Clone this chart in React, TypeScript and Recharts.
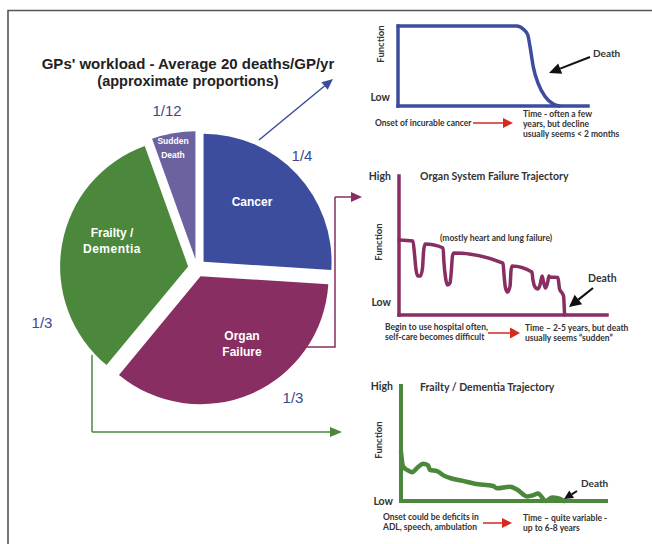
import { Cell, Line, LineChart, Pie, PieChart, XAxis, YAxis } from "recharts";

// pie: share of deaths by trajectory, clockwise from 12 o'clock
const causes = ["Cancer", "Organ Failure", "Frailty / Dementia", "Sudden Death"];
const shares = [0.26, 0.35, 0.335, 0.055];
const sliceColors = ["#3d4d9d", "#892e62", "#4b883b", "#6b629f"];

// trajectories: t = time (0-100), f = function (0 = low, 100 = high)
const cancerTime = [0, 62.5, 66, 68.3, 69.5, 71.2, 73.8, 77.4, 81.7, 85];
const cancerFunction = [100, 100, 96, 89, 74, 49, 28, 12, 2.5, 0];

const organTime = [
  0, 6.7, 7.5, 8.2, 9.1, 10.3, 11.3, 11.8, 12.5, 21.2, 21.6, 22.4, 23.3, 24.5,
  25.2, 25.7, 26.4, 50, 50.5, 51.2, 52.2, 53.4, 53.8, 54.3, 63.9, 64.4, 65.4,
  66.6, 67.8, 68.8, 69.5, 70.4, 71.4, 72.1, 72.6, 76.4, 77.2, 78.4, 79.1, 79.6,
];
const organFunction = [
  54, 53.2, 43, 32.4, 28, 28, 33.8, 45.3, 51, 48.2, 38, 26.6, 21.6, 23, 32.4,
  42.4, 44.6, 37.4, 28.8, 19.4, 16.5, 20.9, 30.9, 35.3, 30.9, 25.2, 20.1, 18.7,
  21.6, 28, 23.7, 19.4, 23, 28, 27.3, 27, 18.7, 15.8, 13.7, 0,
];

const frailtyTime = [
  0, 1, 3, 5.4, 8.3, 10.7, 13.2, 14.1, 17.6, 20.5, 23.9, 30.2, 36, 45, 46.8,
  53.2, 56.6, 61.5, 64.4, 66.8, 70.7, 73.7, 76.6, 79.5,
];
const frailtyFunction = [
  42.5, 30, 27, 25, 29.5, 32.5, 31, 27, 26, 22.5, 20, 17.5, 15, 13, 11, 12.5,
  10, 4, 5, 6.5, 0, 3, 2.5, 0,
];

const levelTicks = [0, 100];
const levelNames = ["Low", "High"];

const PIE_CX = 192;
const PIE_CY = 263;
const EXPLODE = 9;

const pieData = causes.map((name, i) => ({ name, value: shares[i] }));
const total = shares.reduce((a, b) => a + b, 0);
const midAngles = shares.map((s, i) => {
  const before = shares.slice(0, i).reduce((a, b) => a + b, 0);
  return 90 - ((before + s / 2) / total) * 360;
});

const zip = (t: number[], f: number[]) => t.map((v, i) => ({ t: v, f: f[i] }));

const SMALL = "Lato, 'Open Sans', sans-serif";
const ARIAL = "'Liberation Sans', Arial, sans-serif";

function levelTick(lowShift: number) {
  return (props: any) => {
    const { x, y, payload } = props;
    const name = levelNames[levelTicks.indexOf(payload.value)];
    return (
      <text
        x={x}
        y={y + (payload.value === 0 ? lowShift : 0)}
        textAnchor="end"
        dominantBaseline="central"
        fontFamily={SMALL}
        fontWeight={700}
        fontSize={10.5}
        fill="#333"
      >
        {name}
      </text>
    );
  };
}

interface TrajectoryProps {
  left: number;
  top: number;
  width: number;
  height: number;
  margin: { top: number; right: number; bottom: number; left: number };
  yWidth: number;
  data: { t: number; f: number }[];
  color: string;
  axisWidth: number;
  lineWidth: number;
  ticks: number[];
  lowShift: number;
}

function Trajectory(p: TrajectoryProps) {
  const axisLine = { stroke: p.color, strokeWidth: p.axisWidth, strokeLinecap: "square" as const };
  return (
    <div style={{ position: "absolute", left: p.left, top: p.top }}>
      <LineChart width={p.width} height={p.height} data={p.data} margin={p.margin}>
        <XAxis
          type="number"
          dataKey="t"
          domain={[0, 100]}
          tick={false}
          tickLine={false}
          height={2}
          axisLine={axisLine}
        />
        <YAxis
          type="number"
          domain={[0, 100]}
          ticks={p.ticks}
          interval={0}
          width={p.yWidth}
          tickLine={false}
          tickSize={0}
          tickMargin={8}
          axisLine={axisLine}
          tick={levelTick(p.lowShift)}
        />
        <Line
          type="monotone"
          dataKey="f"
          stroke={p.color}
          strokeWidth={p.lineWidth}
          strokeLinejoin="round"
          strokeLinecap="round"
          dot={false}
          isAnimationActive={false}
        />
      </LineChart>
    </div>
  );
}

function Arrow({
  x1, y1, x2, y2, color, width = 1.5, head = 10, spread = 4.5,
}: {
  x1: number; y1: number; x2: number; y2: number; color: string;
  width?: number; head?: number; spread?: number;
}) {
  const a = Math.atan2(y2 - y1, x2 - x1);
  const bx = x2 - head * Math.cos(a);
  const by = y2 - head * Math.sin(a);
  const px = -Math.sin(a) * spread;
  const py = Math.cos(a) * spread;
  return (
    <g>
      <line x1={x1} y1={y1} x2={bx} y2={by} stroke={color} strokeWidth={width} />
      <polygon points={`${x2},${y2} ${bx + px},${by + py} ${bx - px},${by - py}`} fill={color} />
    </g>
  );
}

function Note({ x, y, lines, size = 8.5 }: { x: number; y: number; lines: string[]; size?: number }) {
  return (
    <text x={x} y={y} fontFamily={SMALL} fontWeight={700} fontSize={size} fill="#333" dominantBaseline="central">
      {lines.map((l, i) => (
        <tspan key={i} x={x} dy={i === 0 ? 0 : size * 1.2}>
          {l}
        </tspan>
      ))}
    </text>
  );
}

function Overlay() {
  const white = { fontFamily: ARIAL, fontWeight: 700, fill: "#fff", textAnchor: "middle" as const, dominantBaseline: "central" as const };
  const frac = { fontFamily: ARIAL, fontSize: 15, fill: "#3d4a8c", textAnchor: "middle" as const, dominantBaseline: "central" as const };
  const fn = { fontFamily: SMALL, fontWeight: 700, fontSize: 9.5, fill: "#333", textAnchor: "middle" as const, dominantBaseline: "central" as const };
  return (
    <svg width={652} height={544} style={{ position: "absolute", left: 0, top: 0, pointerEvents: "none" }}>
      <polyline points="652,10.5 8,10.5 8,544" fill="none" stroke="#555" strokeWidth={1.6} />

      <text x={188} y={63} textAnchor="middle" dominantBaseline="central" fontFamily={ARIAL} fontWeight={700} fontSize={15} fill="#222">
        GPs' workload - Average 20 deaths/GP/yr
      </text>
      <text x={188} y={81} textAnchor="middle" dominantBaseline="central" fontFamily={ARIAL} fontWeight={700} fontSize={14.5} fill="#222">
        (approximate proportions)
      </text>

      <text x={167} y={110} {...frac}>1/12</text>
      <text x={302} y={155} {...frac}>1/4</text>
      <text x={42} y={322} {...frac}>1/3</text>
      <text x={293} y={397} {...frac}>1/3</text>

      <text x={252} y={202} fontSize={12} {...white}>Cancer</text>
      <text x={112} y={233} fontSize={12} {...white}>Frailty /</text>
      <text x={112} y={249} fontSize={12} {...white} letterSpacing={0.5}>Dementia</text>
      <text x={242} y={336} fontSize={12} {...white}>Organ</text>
      <text x={242} y={352} fontSize={12} {...white}>Failure</text>
      <text x={173} y={141} fontSize={8.5} {...white}>Sudden</text>
      <text x={173} y={155} fontSize={8.5} {...white}>Death</text>

      <Arrow x1={259} y1={140} x2={333} y2={79} color="#3d4d9d" head={11} spread={5} />
      <polyline points="302,347 335,347 335,197" fill="none" stroke="#892e62" strokeWidth={1.5} />
      <Arrow x1={335} y1={197} x2={362} y2={197} color="#892e62" head={11} spread={5} />
      <polyline points="92,355 92,432" fill="none" stroke="#4b883b" strokeWidth={1.5} />
      <Arrow x1={92} y1={432} x2={342} y2={432} color="#4b883b" head={12} spread={5} />

      {/* cancer trajectory */}
      <text x={380} y={44} transform="rotate(-90 380 44)" {...fn}>Function</text>
      <Note x={593} y={53} lines={["Death"]} size={10} />
      <Arrow x1={590} y1={57} x2={549} y2={73} color="#111" width={2} head={12} spread={5.5} />
      <Note x={375} y={123} lines={["Onset of incurable cancer"]} />
      <Arrow x1={473} y1={123} x2={513} y2={123} color="#d42a20" head={10} spread={5} />
      <Note x={523} y={114} lines={["Time - often a few", "years, but decline", "usually seems < 2 months"]} />

      {/* organ failure trajectory */}
      <Note x={420} y={176} lines={["Organ System Failure Trajectory"]} size={10.5} />
      <text x={378} y={242} transform="rotate(-90 378 242)" {...fn}>Function</text>
      <Note x={440} y={238} lines={["(mostly heart and lung failure)"]} size={8.5} />
      <Note x={588} y={278} lines={["Death"]} size={10.5} />
      <Arrow x1={593} y1={288} x2={569} y2={307} color="#111" width={2.2} head={12} spread={6} />
      <Note x={385} y={327} lines={["Begin to use hospital often,", "self-care becomes difficult"]} />
      <Arrow x1={488} y1={333} x2={520} y2={333} color="#d42a20" head={10} spread={5.5} />
      <Note x={525} y={328} lines={["Time \u2013 2-5 years, but death", "usually seems \u201csudden\u201d"]} />

      {/* frailty trajectory */}
      <Note x={420} y={387} lines={["Frailty / Dementia Trajectory"]} size={10.5} />
      <text x={378} y={440} transform="rotate(-90 378 440)" {...fn}>Function</text>
      <Note x={581} y={483} lines={["Death"]} size={10} />
      <Arrow x1={577} y1={491} x2={564} y2={499} color="#111" width={2} head={9} spread={4.5} />
      <Note x={383} y={517} lines={["Onset could be deficits in", "ADL, speech, ambulation"]} />
      <Arrow x1={483} y1={523} x2={512} y2={523} color="#d42a20" head={10} spread={5} />
      <Note x={523} y={518} lines={["Time \u2013 quite variable -", "up to 6-8 years"]} />
    </svg>
  );
}

export default function App() {
  return (
    <div style={{ position: "absolute", left: 0, top: 0, width: 652, height: 544, background: "#fff", overflow: "hidden" }}>
      <div style={{ position: "absolute", left: 0, top: 0 }}>
        <PieChart width={652} height={544}>
          {pieData.map((_, i) => {
            const rad = (midAngles[i] * Math.PI) / 180;
            return (
              <Pie
                key={causes[i]}
                data={pieData}
                dataKey="value"
                nameKey="name"
                cx={PIE_CX + EXPLODE * Math.cos(rad)}
                cy={PIE_CY - EXPLODE * Math.sin(rad)}
                outerRadius={128}
                startAngle={90}
                endAngle={-270}
                stroke="none"
                isAnimationActive={false}
              >
                {pieData.map((d, j) => (
                  <Cell key={d.name} fill={j === i ? sliceColors[j] : "none"} stroke="none" />
                ))}
              </Pie>
            );
          })}
        </PieChart>
      </div>

      <Trajectory
        left={360} top={20} width={240} height={100}
        margin={{ top: 6, right: 12, bottom: 12, left: 0 }}
        yWidth={38}
        data={zip(cancerTime, cancerFunction)}
        color="#3d4d9d" axisWidth={3.5} lineWidth={3.5}
        ticks={[0]} lowShift={-9}
      />
      <Trajectory
        left={360} top={170} width={260} height={160}
        margin={{ top: 6, right: 13, bottom: 13, left: 0 }}
        yWidth={39}
        data={zip(organTime, organFunction)}
        color="#892e62" axisWidth={3.5} lineWidth={3.5}
        ticks={levelTicks} lowShift={-13}
      />
      <Trajectory
        left={360} top={380} width={260} height={135}
        margin={{ top: 6, right: 14, bottom: 12, left: 0 }}
        yWidth={41}
        data={zip(frailtyTime, frailtyFunction)}
        color="#4b883b" axisWidth={4} lineWidth={4.5}
        ticks={levelTicks} lowShift={0}
      />

      <Overlay />
    </div>
  );
}
